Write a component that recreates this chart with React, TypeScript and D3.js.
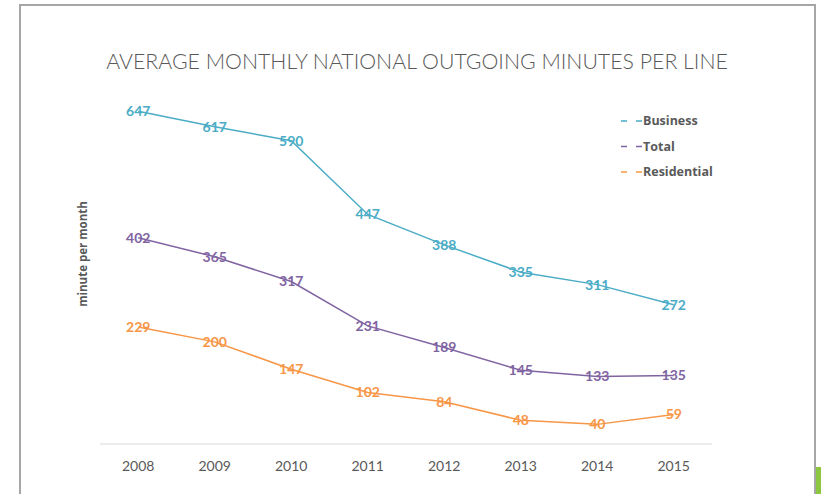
import React from "react";
import * as d3 from "d3";

const years = ["2008", "2009", "2010", "2011", "2012", "2013", "2014", "2015"];
const business = [647, 617, 590, 447, 388, 335, 311, 272];
const total = [402, 365, 317, 231, 189, 145, 133, 135];
const residential = [229, 200, 147, 102, 84, 48, 40, 59];
const seriesNames = ["Business", "Total", "Residential"];
const seriesColors = ["#4bacc6", "#8064a2", "#f79646"];

const W = 821;
const H = 494;

export default function App() {
  const x = d3.scaleBand<string>().domain(years).range([100, 712]);
  const y = d3.scaleLinear().domain([0, 700]).range([445, 84]);
  const seriesData = [business, total, residential];
  const line = d3
    .line<number>()
    .x((_, i) => (x(years[i]) as number) + x.bandwidth() / 2)
    .y((d) => y(d));
  const font = "Lato, 'Open Sans', sans-serif";
  const font2 = "'Open Sans', Lato, sans-serif";
  const gray = "#595959";

  return (
    <svg
      width={W}
      height={H}
      style={{ position: "absolute", left: 0, top: 0, background: "#fff" }}
    >
      <rect x={0} y={0} width={W} height={H} fill="#fff" />
      <rect x={20} y={5} width={795} height={520} fill="#fff" stroke="#a6a6a6" strokeWidth={2} />
      <rect x={816} y={467} width={5} height={27} fill="#8dc63f" />

      <text
        x={417}
        y={69}
        textAnchor="middle"
        fontFamily={font}
        fontWeight={300}
        fontSize={21.3}
        fill={gray}
      >
        AVERAGE MONTHLY NATIONAL OUTGOING MINUTES PER LINE
      </text>

      <text
        transform={`translate(87,254) rotate(-90)`}
        textAnchor="middle"
        fontFamily={font2}
        fontWeight={700}
        fontSize={11.5}
        fill={gray}
      >
        minute per month
      </text>

      <line x1={x.range()[0]} x2={x.range()[1]} y1={444} y2={444} stroke="#d9d9d9" strokeWidth={1} />

      {years.map((yr) => (
        <text
          key={yr}
          x={(x(yr) as number) + x.bandwidth() / 2}
          y={471}
          textAnchor="middle"
          fontFamily={font}
          fontSize={14}
          fill={gray}
        >
          {yr}
        </text>
      ))}

      {seriesData.map((vals, si) => (
        <path
          key={"l" + si}
          d={line(vals) || ""}
          fill="none"
          stroke={seriesColors[si]}
          strokeWidth={1.5}
        />
      ))}

      {seriesData.map((vals, si) =>
        vals.map((v, i) => (
          <text
            key={"t" + si + "-" + i}
            x={(x(years[i]) as number) + x.bandwidth() / 2}
            y={y(v)}
            dy="0.35em"
            textAnchor="middle"
            fontFamily={font}
            fontWeight={700}
            fontSize={14}
            fill={seriesColors[si]}
          >
            {v}
          </text>
        ))
      )}

      {seriesNames.map((name, i) => (
        <g key={name} transform={`translate(0,${121 + i * 25.5})`}>
          <line
            x1={621}
            x2={643}
            y1={0}
            y2={0}
            stroke={seriesColors[i]}
            strokeWidth={1.5}
            strokeDasharray="6,9"
          />
          <text
            x={643}
            y={0}
            dy="0.35em"
            fontFamily={font2}
            fontWeight={700}
            fontSize={12.5}
            fill={gray}
          >
            {name}
          </text>
        </g>
      ))}
    </svg>
  );
}
